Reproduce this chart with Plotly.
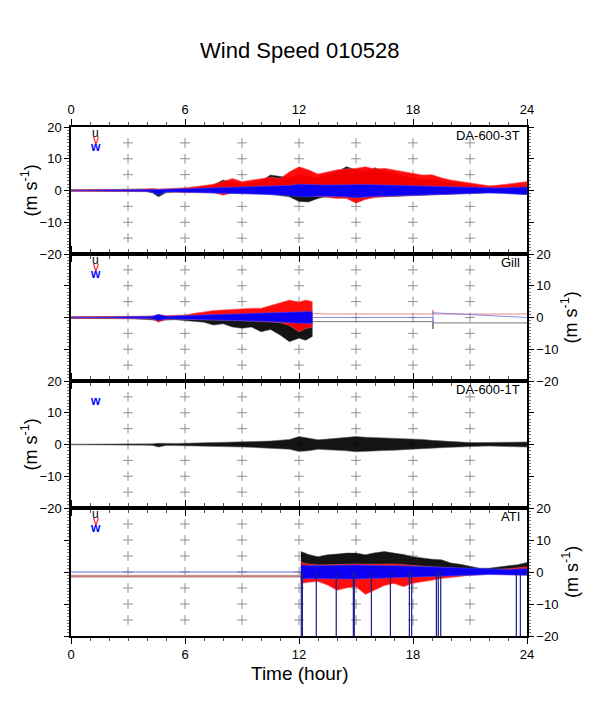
import plotly.graph_objects as go

# ---------------- data (envelopes of the records) -------------
hours = [0, 1, 2, 3, 4, 4.3, 4.6, 5, 5.5, 6, 6.5, 7, 7.5, 8, 8.5, 9, 9.5, 10, 10.5, 11, 11.5,
         12, 12.5, 13, 13.5, 14, 14.5, 15, 15.5, 16, 16.5, 17, 17.5, 18, 18.5, 19, 19.5,
         20, 20.5, 21, 21.5, 22, 22.5, 23, 23.5, 24]

# Panel 1: DA-600-3T
da3_u_hi = [0.2, 0.2, 0.3, 0.4, 0.5, 0.4, 0.3, 0.4, 0.5, 0.6, 0.8, 1.2, 1.8, 3.3, 2.5, 2.0, 2.5, 3.0, 4.9, 4.5, 4.0,
            5.0, 4.5, 4.0, 5.0, 6.0, 7.5, 6.5, 6.0, 7.2, 6.0, 5.5, 4.5, 4.0, 3.5, 3.5, 3.0,
            2.5, 2.0, 1.5, 1.2, 1.0, 1.0, 1.2, 1.5, 1.5]
da3_u_lo = [-0.2, -0.2, -0.3, -0.3, -0.4, -0.8, -2.0, -0.7, -0.5, -0.6, -0.6, -0.7, -0.8, -0.8, -1.0, -1.0, -1.0, -1.1, -1.2, -1.5, -2.0,
            -3.5, -3.6, -2.5, -1.8, -1.8, -2.2, -2.5, -2.2, -2.0, -1.8, -1.8, -1.6, -1.5, -1.5, -1.3, -1.3,
            -1.1, -1.0, -0.9, -0.8, -0.7, -0.7, -0.8, -1.0, -1.2]
da3_v_hi = [0.2, 0.2, 0.3, 0.3, 0.5, 0.6, 0.4, 0.5, 0.7, 0.9, 1.2, 1.6, 2.0, 2.8, 3.8, 2.8, 3.3, 3.6, 4.2, 3.8, 5.9,
            7.5, 6.5, 5.2, 5.8, 6.5, 6.8, 7.0, 7.5, 6.8, 7.0, 6.5, 5.8, 5.4, 4.9, 5.0, 4.0,
            3.3, 2.8, 2.3, 1.8, 1.5, 1.7, 2.0, 2.3, 2.8]
da3_v_lo = [-0.2, -0.2, -0.2, -0.3, -0.3, -0.5, -1.0, -0.5, -0.5, -0.5, -0.6, -0.6, -0.7, -1.5, -0.8, -0.8, -0.9, -1.0, -1.0, -1.1, -1.2,
            -1.3, -1.5, -1.8, -2.2, -2.5, -2.5, -4.0, -2.8, -2.2, -2.0, -1.8, -1.6, -1.5, -1.4, -1.3, -1.2,
            -1.0, -0.9, -0.8, -0.7, -0.6, -0.6, -0.6, -0.7, -0.8]
da3_w_hi = [0.1, 0.1, 0.1, 0.2, 0.3, 0.3, 0.3, 0.4, 0.5, 0.5, 0.6, 0.7, 0.8, 0.9, 1.0, 1.0, 1.1, 1.2, 1.3, 1.4, 1.6,
            2.0, 2.0, 1.8, 1.7, 1.8, 1.9, 2.0, 1.9, 1.8, 1.8, 1.7, 1.6, 1.5, 1.4, 1.4, 1.2,
            1.1, 1.0, 0.9, 0.8, 0.8, 0.8, 0.9, 1.0, 1.1]
da3_w_lo = [-0.1, -0.1, -0.1, -0.2, -0.3, -0.6, -1.4, -0.5, -0.5, -0.5, -0.6, -0.7, -0.8, -0.9, -1.0, -1.0, -1.1, -1.2, -1.3, -1.4, -1.6,
            -2.0, -2.0, -1.8, -1.8, -1.9, -2.0, -2.3, -2.0, -1.8, -1.8, -1.7, -1.8, -1.6, -1.5, -1.4, -1.3,
            -1.2, -1.1, -1.0, -0.9, -0.8, -0.9, -1.0, -1.1, -1.3]

# Panel 2: Gill (record until 12.7 h, then flat values)
gill_hours = [0, 1, 2, 3, 4, 4.3, 4.6, 5, 5.5, 6, 6.5, 7, 7.5, 8, 8.5, 9, 9.5, 10, 10.5, 11, 11.5, 12, 12.35, 12.7]
gill_u_hi = [0.2, 0.2, 0.2, 0.2, 0.3, 0.4, 0.8, 0.4, 0.4, 0.5, 0.5, 0.6, 0.7, 0.8, 0.9, 1.0, 1.0, 1.0, 1.1, 1.2, 1.3, 1.5, 1.5, 1.5]
gill_u_lo = [-0.3, -0.3, -0.3, -0.4, -0.6, -0.8, -1.0, -0.8, -0.7, -0.8, -1.2, -1.5, -2.4, -2.0, -3.0, -3.4, -3.0, -4.5, -3.8, -5.5, -7.6, -6.5, -7.2, -6.0]
gill_v_hi = [0.2, 0.2, 0.3, 0.3, 0.4, 0.5, 0.8, 0.6, 0.7, 0.8, 1.3, 1.8, 2.2, 2.4, 2.6, 2.7, 2.9, 2.9, 3.7, 4.5, 5.5, 4.8, 5.5, 5.0]
gill_v_lo = [-0.2, -0.2, -0.2, -0.3, -0.4, -0.5, -1.5, -0.6, -0.5, -0.5, -0.5, -0.6, -0.7, -0.8, -0.9, -1.0, -1.1, -1.2, -1.4, -1.6, -2.5, -4.5, -3.5, -3.0]
gill_w_hi = [0.1, 0.1, 0.1, 0.2, 0.3, 0.4, 1.0, 0.4, 0.5, 0.5, 0.6, 0.6, 0.7, 0.8, 0.9, 1.0, 1.1, 1.2, 1.3, 1.4, 1.6, 1.8, 1.9, 1.9]
gill_w_lo = [-0.1, -0.1, -0.1, -0.2, -0.4, -0.4, -1.0, -0.5, -0.5, -0.5, -0.6, -0.6, -0.7, -0.8, -0.9, -1.0, -1.1, -1.2, -1.3, -1.4, -1.6, -1.8, -1.9, -1.9]
gill_flat_u_t = [12.7, 19.05, 19.05, 19.05, 24]
gill_flat_u = [-1.3, -1.3, -3.6, -1.7, -1.7]
gill_flat_v_t = [12.7, 13.5, 19.05, 19.05, 19.05, 24]
gill_flat_v = [1.3, 1.1, 1.1, 2.4, 1.1, 1.1]
gill_flat_w_t = [12.7, 19.05, 19.05, 19.05, 24]
gill_flat_w = [0.0, 0.0, -1.5, 1.5, 0.0]

# Panel 3: DA-600-1T (u only)
da1_u_hi = [0.1, 0.1, 0.1, 0.15, 0.2, 0.2, 0.4, 0.3, 0.35, 0.4, 0.45, 0.5, 0.55, 0.6, 0.7, 0.8, 0.9, 1.0, 1.1, 1.3, 1.6,
            2.5, 2.0, 1.5, 1.7, 2.0, 2.3, 2.5, 2.3, 2.2, 2.1, 2.0, 1.9, 1.8, 1.6, 1.3, 1.1,
            0.9, 0.8, 0.6, 0.6, 0.6, 0.6, 0.7, 0.7, 0.8]
da1_u_lo = [-0.1, -0.1, -0.1, -0.15, -0.2, -0.3, -0.8, -0.3, -0.35, -0.4, -0.45, -0.5, -0.55, -0.6, -0.7, -0.8, -0.9, -1.0, -1.1, -1.3, -1.5,
            -2.2, -2.0, -1.5, -1.6, -1.8, -2.0, -2.3, -2.1, -2.0, -1.9, -1.8, -1.7, -1.5, -1.4, -1.2, -1.0,
            -0.9, -0.7, -0.6, -0.55, -0.5, -0.5, -0.6, -0.7, -0.8]

# Panel 4: ATI (flat until 12.1 h)
ati_flat_t = [0, 12.1]
ati_flat_u = [-1.3, -1.3]
ati_flat_v = [-1.3, -1.3]
ati_flat_w = [0.0, 0.0]
ati_hours = [12.1, 12.5, 13, 13.5, 14, 14.5, 15, 15.5, 16, 16.5, 17, 17.5, 18, 18.5, 19, 19.5,
             20, 20.5, 21, 21.5, 22, 22.5, 23, 23.5, 24]
ati_u_hi = [6.4, 5.5, 4.8, 5.4, 5.6, 5.9, 5.9, 5.4, 6.0, 6.4, 5.9, 5.5, 4.8, 4.3, 4.0, 3.8, 2.8, 2.4, 1.8, 1.2, 1.2, 1.5, 1.8, 2.3, 3.0]
ati_u_lo = [-0.8, -0.6, -0.6, -0.6, -0.6, -0.6, -0.6, -0.6, -0.6, -0.6, -0.6, -0.5, -0.5, -0.5, -0.4, -0.4, -0.3, -0.3, -0.3, -0.2, -0.2, -0.2, -0.3, -0.3, -0.3]
ati_v_hi = [3.0, 2.5, 2.2, 2.3, 2.4, 2.5, 2.5, 2.4, 2.5, 2.6, 2.5, 2.3, 2.0, 1.8, 1.6, 1.4, 1.2, 1.0, 0.8, 0.7, 0.7, 0.8, 1.0, 1.3, 1.6]
ati_v_lo = [-3.6, -3.2, -3.0, -4.1, -5.7, -5.0, -4.6, -7.0, -5.5, -4.2, -3.6, -4.6, -3.5, -3.0, -2.6, -2.0, -1.6, -1.4, -1.0, -0.9, -0.7, -0.8, -0.9, -0.9, -1.0]
ati_w_hi = [2.2, 2.0, 2.0, 2.1, 2.1, 2.2, 2.2, 2.1, 2.1, 2.1, 2.0, 1.9, 1.8, 1.7, 1.6, 1.4, 1.2, 1.1, 1.0, 0.9, 0.8, 0.8, 0.8, 0.9, 1.0]
ati_w_lo = [-2.2, -2.0, -2.0, -2.1, -2.1, -2.2, -2.2, -2.1, -2.1, -2.1, -2.0, -1.9, -1.8, -1.7, -1.6, -1.4, -1.2, -1.1, -1.0, -0.9, -0.8, -0.8, -0.8, -0.9, -1.0]
ati_spike_t = [12.12, 12.18, 12.91, 13.96, 14.86, 14.91, 15.81, 16.81, 17.81, 17.93, 19.23, 19.33, 19.46, 23.44, 23.65]
ati_spike_min = -20

panel_names = ["DA-600-3T", "Gill", "DA-600-1T", "ATI"]
grid_hours = [3, 6, 9, 12, 15, 18, 21]
grid_vals = [-15, -10, -5, 0, 5, 10, 15]
x_ticks = [0, 6, 12, 18, 24]
y_ticks = [-20, -10, 0, 10, 20]

# ---------------- figure ----------------
FONT = "Liberation Sans, Arial, sans-serif"
BLACK, RED, BLUE = "#000000", "#ff0000", "#0000ff"
W, H = 598, 709
OFF = 8  # the page body has an 8 px margin; place everything 8 px up/left


def px(xpix):
    return (xpix - OFF) / W


def py(ypix):
    return 1 - (ypix - OFF) / H


edges = [127, 254, 381, 508, 636]
domains = [[py(edges[i + 1]), py(edges[i])] for i in range(4)]

fig = go.Figure()


def band(t, hi, lo, color, fillcolor, k, width=0.8):
    xs = list(t) + list(t)[::-1]
    ys = list(hi) + list(lo)[::-1]
    fig.add_trace(go.Scatter(x=xs, y=ys, fill="toself", fillcolor=fillcolor, mode="lines",
                             line=dict(color=color, width=width), xaxis=f"x{k}", yaxis=f"y{k}",
                             hoverinfo="skip", showlegend=False))


def line(t, y, color, width, k):
    fig.add_trace(go.Scatter(x=t, y=y, mode="lines", line=dict(color=color, width=width),
                             xaxis=f"x{k}", yaxis=f"y{k}", hoverinfo="skip", showlegend=False))


# grid crosses
for k in range(1, 5):
    gx = [h for h in grid_hours for v in grid_vals]
    gy = [v for h in grid_hours for v in grid_vals]
    fig.add_trace(go.Scatter(x=gx, y=gy, mode="markers",
                             marker=dict(symbol="cross-thin", size=7, line=dict(color="#909090", width=1)),
                             xaxis=f"x{k}", yaxis=f"y{k}", hoverinfo="skip", showlegend=False))

U_EDGE, V_EDGE, W_EDGE = "rgba(60,60,60,0.6)", "rgba(255,90,90,0.7)", "rgba(70,70,255,0.7)"
U_FILL, V_FILL, W_FILL = "rgba(0,0,0,0.92)", "rgba(255,0,0,0.95)", "rgba(0,0,255,0.95)"

# panel 1
band(hours, da3_u_hi, da3_u_lo, U_EDGE, U_FILL, 1)
band(hours, da3_v_hi, da3_v_lo, V_EDGE, V_FILL, 1)
band(hours, da3_w_hi, da3_w_lo, W_EDGE, W_FILL, 1)

# panel 2
band(gill_hours, gill_u_hi, gill_u_lo, U_EDGE, U_FILL, 2)
band(gill_hours, gill_v_hi, gill_v_lo, V_EDGE, V_FILL, 2)
band(gill_hours, gill_w_hi, gill_w_lo, W_EDGE, W_FILL, 2)
line(gill_flat_u_t, gill_flat_u, "#555555", 0.8, 2)
line(gill_flat_v_t, gill_flat_v, "#e07070", 0.8, 2)
line(gill_flat_w_t, gill_flat_w, "#7070e0", 0.8, 2)

# panel 3
band(hours, da1_u_hi, da1_u_lo, "rgba(90,90,90,0.7)", "rgba(0,0,0,0.92)", 3)

# panel 4
line(ati_flat_t, ati_flat_u, "#cfa8a8", 3, 4)
line(ati_flat_t, ati_flat_v, "#b86a6a", 1, 4)
line(ati_flat_t, ati_flat_w, "#6a6ad8", 1, 4)
band(ati_hours, ati_u_hi, ati_u_lo, U_EDGE, U_FILL, 4)
band(ati_hours, ati_v_hi, ati_v_lo, V_EDGE, V_FILL, 4)
band(ati_hours, ati_w_hi, ati_w_lo, W_EDGE, W_FILL, 4)
sx, sy = [], []
for t in ati_spike_t:
    sx += [t, t, None]
    sy += [0, ati_spike_min, None]
line(sx, sy, "#1c1c8a", 1.2, 4)

# axes
layout = dict(width=W, height=H, autosize=False, margin=dict(l=0, r=0, t=0, b=0, pad=0),
              paper_bgcolor="white", plot_bgcolor="white", showlegend=False,
              font=dict(family=FONT, color="black", size=13))
for i in range(4):
    k = i + 1
    sfx = "" if k == 1 else str(k)
    xa = dict(domain=[px(71), px(527)], anchor=f"y{k}", range=[0, 24], tickvals=x_ticks,
              ticks="outside", ticklen=6, tickwidth=1, tickcolor="black", automargin=False,
              minor=dict(dtick=1, tick0=0, ticks="outside", ticklen=3, tickcolor="#555555"),
              showline=True, linewidth=1.5, linecolor="black", mirror="ticks",
              showgrid=False, zeroline=False, tickfont=dict(size=13, family=FONT),
              showticklabels=(k in (1, 4)), side=("top" if k == 1 else "bottom"))
    ya = dict(domain=domains[i], anchor=f"x{k}", range=[-20, 20], tickvals=y_ticks,
              ticks="outside", ticklen=5, tickwidth=1, tickcolor="black", automargin=False,
              minor=dict(dtick=1, tick0=0, ticks="outside", ticklen=2, tickcolor="#777777"),
              showline=True, linewidth=1.5, linecolor="black", mirror="ticks",
              showgrid=False, zeroline=False, tickfont=dict(size=13, family=FONT),
              side=("left" if k in (1, 3) else "right"))
    if k != 1:
        xa["matches"] = "x"
    layout[f"xaxis{sfx}"] = xa
    layout[f"yaxis{sfx}"] = ya

annotations = [
    dict(text="Wind Speed 010528", x=px(299), y=py(50), xref="paper", yref="paper",
         showarrow=False, font=dict(size=22, family=FONT), xanchor="center", yanchor="middle"),
    dict(text="Time (hour)", x=px(299), y=py(673), xref="paper", yref="paper",
         showarrow=False, font=dict(size=19, family=FONT), xanchor="center", yanchor="middle"),
]
for i in range(4):
    k = i + 1
    yc = py((edges[i] + edges[i + 1]) / 2)
    left = k in (1, 3)
    annotations.append(dict(text="(m s<sup>-1</sup>)", x=px(30 if left else 570), y=yc,
                            xref="paper", yref="paper", textangle=-90, showarrow=False,
                            font=dict(size=18, family=FONT), xanchor="center", yanchor="middle"))
    annotations.append(dict(text=panel_names[i], x=23.75, y=17.3, xref=f"x{k}", yref=f"y{k}",
                            showarrow=False, xanchor="right", yanchor="middle",
                            font=dict(size=13, family=FONT)))
    if k == 3:
        annotations.append(dict(text="<b>w</b>", x=1.3, y=13.6, xref=f"x{k}", yref=f"y{k}",
                                showarrow=False, font=dict(size=12, color=BLUE, family=FONT)))
    else:
        for lab, yy, col in (("u", 18.1, BLACK), ("v", 16.0, RED), ("<b>w</b>", 13.8, BLUE)):
            annotations.append(dict(text=lab, x=1.3, y=yy, xref=f"x{k}", yref=f"y{k}",
                                    showarrow=False, font=dict(size=12, color=col, family=FONT)))
layout["annotations"] = annotations
fig.update_layout(**layout)
fig.write_html("out.html")
